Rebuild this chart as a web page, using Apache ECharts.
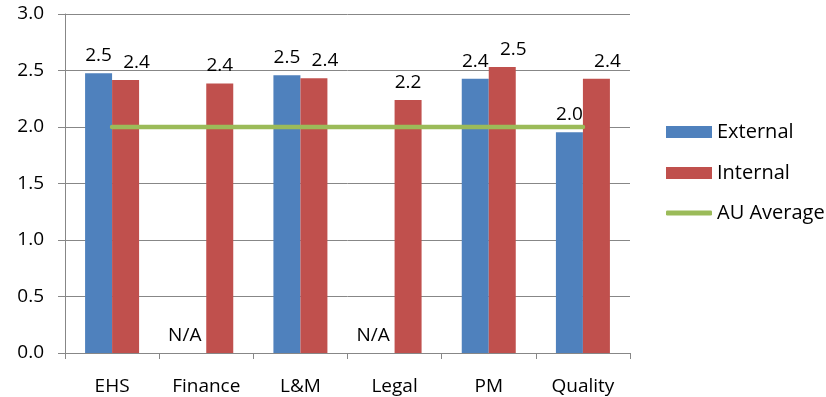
<!DOCTYPE html>
<html>
<head>
<meta charset="utf-8">
<script src="https://cdn.jsdelivr.net/npm/echarts@6/dist/echarts.min.js"></script>
<style>
  html, body { margin: 0; padding: 0; background: #fff; }
  #chart { width: 826px; height: 397px; }
</style>
</head>
<body>
<div id="chart"></div>
<script>
// Scores by function area
const categories = ['EHS', 'Finance', 'L&M', 'Legal', 'PM', 'Quality'];
const external = [2.475, null, 2.457, null, 2.427, 1.953];
const internal = [2.416, 2.386, 2.431, 2.239, 2.531, 2.427];
const auAverage = [2.0, 2.0, 2.0, 2.0, 2.0, 2.0];
const yTicks = { min: 0, max: 3, interval: 0.5 };

const FONT = '"Open Sans", "Liberation Sans", Arial, sans-serif';
const GRAY = '#878787';
const labelStyle = { color: '#000', fontSize: 19, fontFamily: FONT };

// Missing external scores are shown as "N/A" at the baseline
const externalData = external.map(v => v === null
  ? { value: 0, label: { formatter: 'N/A', offset: [-8, 0] } }
  : v);

// Internal labels shift right when an external label sits beside them
const internalData = internal.map((v, i) => external[i] === null
  ? v
  : { value: v, label: { offset: [11, 0] } });

const chart = echarts.init(document.getElementById('chart'), null, { renderer: 'canvas' });

chart.setOption({
  animation: false,
  textStyle: { fontFamily: FONT },
  grid: { left: 65, right: 196, top: 14, bottom: 44 },
  legend: [
    {
      orient: 'vertical',
      left: 661, top: 117,
      itemWidth: 46, itemHeight: 12, itemGap: 21,
      icon: 'rect',
      textStyle: { color: '#000', fontSize: 20, lineHeight: 20, fontFamily: FONT },
      data: ['External', 'Internal']
    },
    {
      orient: 'vertical',
      left: 661, top: 198,
      itemWidth: 46, itemHeight: 5,
      icon: 'roundRect',
      textStyle: { color: '#000', fontSize: 20, lineHeight: 20, fontFamily: FONT },
      data: ['AU Average']
    }
  ],
  xAxis: {
    type: 'category',
    data: categories,
    axisLine: { lineStyle: { color: GRAY, width: 1 } },
    axisTick: { show: true, length: 6, alignWithLabel: false, lineStyle: { color: GRAY } },
    axisLabel: { color: '#000', fontSize: 19, margin: 24, fontFamily: FONT },
    splitLine: { show: false }
  },
  yAxis: {
    type: 'value',
    min: yTicks.min, max: yTicks.max, interval: yTicks.interval,
    axisLine: { show: true, lineStyle: { color: GRAY, width: 1 } },
    axisTick: { show: true, length: 7, lineStyle: { color: GRAY } },
    axisLabel: {
      color: '#000', fontSize: 19, margin: 21, fontFamily: FONT,
      formatter: v => v.toFixed(1)
    },
    splitLine: { show: true, lineStyle: { color: GRAY, width: 1 } }
  },
  series: [
    {
      name: 'External',
      type: 'bar',
      data: externalData,
      barWidth: 27,
      barGap: '0%',
      itemStyle: { color: '#4F81BD' },
      label: {
        show: true, position: 'top', distance: 8, ...labelStyle,
        formatter: p => Number(p.value).toFixed(1)
      },
      z: 2
    },
    {
      name: 'Internal',
      type: 'bar',
      data: internalData,
      barWidth: 27,
      itemStyle: { color: '#C0504D' },
      label: {
        show: true, position: 'top', distance: 8, ...labelStyle,
        formatter: p => Number(p.value).toFixed(1)
      },
      z: 2
    },
    {
      name: 'AU Average',
      type: 'line',
      data: auAverage,
      showSymbol: false,
      symbol: 'none',
      itemStyle: { color: '#9BBB59' },
      lineStyle: { color: '#9BBB59', width: 4.5, cap: 'round' },
      z: 3
    }
  ]
});
</script>
</body>
</html>
